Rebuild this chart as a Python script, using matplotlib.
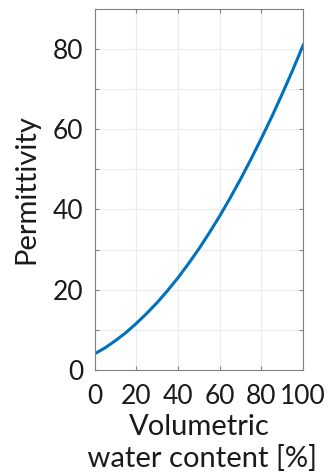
import matplotlib
matplotlib.use("Agg")
import matplotlib.pyplot as plt

# values
water_pct = [0, 5, 10, 15, 20, 25, 30, 35, 40, 45, 50,
             55, 60, 65, 70, 75, 80, 85, 90, 95, 100]
permittivity = [4.0, 5.5, 7.3, 9.3, 11.6, 14.1, 16.8, 19.8, 23.0, 26.5, 30.2,
                34.2, 38.4, 42.9, 47.6, 52.6, 57.8, 63.2, 68.9, 74.8, 81.0]

x_ticks = [0, 20, 40, 60, 80, 100]
y_ticks = [0, 20, 40, 60, 80]
y_minor = [10, 30, 50, 70]

plt.rcParams["font.family"] = ["Lato", "DejaVu Sans"]

fig = plt.figure(figsize=(3.31, 4.73), dpi=100)
ax = fig.add_axes([0.286, 0.218, 0.63, 0.763])

ax.plot(water_pct, permittivity, color="#0072BD", linewidth=2.2)

ax.set_xlim(0, 100)
ax.set_ylim(0, 90)
ax.set_xticks(x_ticks)
ax.set_yticks(y_ticks)
ax.set_yticks(y_minor, minor=True)
ax.grid(True, which="both", color="#ececec", linewidth=0.8)
ax.set_axisbelow(True)

ax.tick_params(which="both", direction="in", top=True, right=True,
               length=3, width=0.8, color="#808080",
               labelsize=19, labelcolor="#1a1a1a")
ax.tick_params(axis="x", pad=10)
ax.tick_params(axis="y", pad=8)
for s in ax.spines.values():
    s.set_color("#808080")
    s.set_linewidth(0.8)

ax.set_ylabel("Permittivity", fontsize=21, color="#1a1a1a", labelpad=10)
ax.set_xlabel("Volumetric\n water content [%]", fontsize=21, color="#1a1a1a",
              linespacing=1.2, labelpad=4)

fig.savefig("out.png", dpi=100)
